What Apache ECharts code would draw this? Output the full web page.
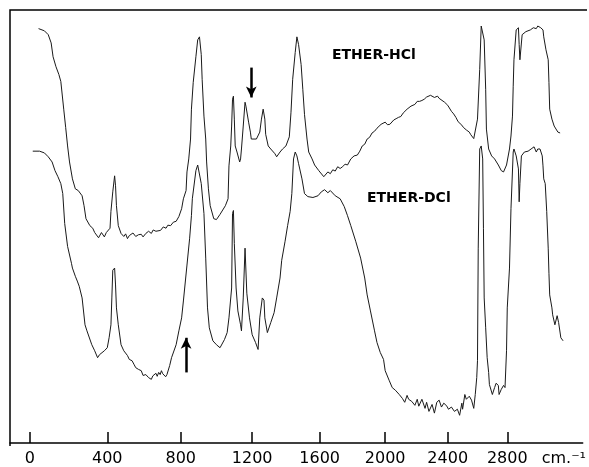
<!DOCTYPE html>
<html>
<head>
<meta charset="utf-8">
<script src="https://cdn.jsdelivr.net/npm/echarts@6/dist/echarts.min.js"></script>
<style>
html, body { margin: 0; padding: 0; background: #fff; }
#chart { width: 589px; height: 467px; }
</style>
</head>
<body>
<div id="chart"></div>
<script>
// wavenumber axis of the recorder chart, cm-1
var tickWavenumbers = [0, 400, 800, 1200, 1600, 2000, 2400, 2800];
var tickLabels = ['0', '400', '800', '1200', '1600', '2000', '2400', '2800'];
// the chart paper is not linear in wavenumber: relative spacing between successive ticks
var tickSpacing = [78, 74, 72, 68, 66, 63, 60];
var unitLabel = 'cm.\u207b\u00b9';

// [wavenumber, % transmission]
var hclTrace = [
    [45,95.7],[75,95.2],[95,94.3],[110,92.4],[120,89.2],[135,86.9],[150,85.1],[160,83.5],[175,77.1],[185,72.9],
    [195,68.6],[205,64.9],[220,61.0],[235,58.7],[250,58.3],[270,57.1],[280,54.8],[290,51.8],[310,50.2],[325,49.6],
    [335,48.6],[345,48.9],[355,47.4],[360,47.7],[370,48.6],[375,48.4],[385,47.6],[395,48.6],[400,48.4],[415,49.6],
    [420,53.5],[430,58.0],[440,61.7],[445,59.4],[450,54.8],[460,50.2],[475,48.4],[490,47.7],[500,48.3],[510,47.2],
    [520,47.9],[530,47.9],[540,48.5],[555,47.7],[570,48.1],[585,48.2],[595,47.6],[610,48.4],[625,48.9],[640,48.4],
    [650,49.2],[665,48.9],[675,48.5],[690,49.1],[705,49.9],[720,49.6],[730,50.3],[745,50.2],[760,51.0],[775,51.2],
    [790,52.3],[805,54.1],[815,56.4],[830,58.3],[835,62.6],[845,65.6],[855,70.2],[860,77.1],[870,83.3],[885,89.2],
    [895,93.1],[905,93.8],[915,89.7],[920,84.0],[930,75.5],[940,70.2],[945,64.9],[955,58.7],[965,54.8],[985,51.8],
    [1000,51.6],[1020,52.8],[1050,54.8],[1065,56.4],[1070,64.0],[1080,68.6],[1085,73.2],[1090,79.4],[1095,80.1],[1100,74.8],
    [1105,68.6],[1115,67.2],[1130,64.9],[1135,65.6],[1140,67.9],[1150,73.2],[1160,78.7],[1165,77.8],[1180,74.1],[1190,71.8],
    [1195,70.2],[1225,70.2],[1245,71.8],[1255,74.8],[1265,77.1],[1275,74.8],[1280,71.3],[1295,68.6],[1310,67.9],[1335,66.8],
    [1345,66.1],[1365,67.2],[1380,67.9],[1400,68.6],[1420,70.7],[1430,76.4],[1440,84.0],[1455,90.2],[1465,93.8],[1475,92.0],
    [1490,87.4],[1500,81.7],[1510,75.9],[1525,70.2],[1535,67.2],[1555,65.6],[1570,64.2],[1595,62.9],[1625,61.5],[1650,62.6],
    [1665,62.2],[1680,63.1],[1695,62.8],[1710,63.8],[1725,63.4],[1740,63.8],[1755,64.4],[1770,64.2],[1790,65.6],[1810,66.3],
    [1830,66.5],[1845,67.4],[1860,68.6],[1875,69.0],[1890,70.2],[1905,70.6],[1920,71.6],[1935,72.0],[1950,72.7],[1975,73.6],
    [2000,74.1],[2015,73.5],[2030,73.6],[2055,74.6],[2070,74.9],[2085,75.2],[2100,75.4],[2115,76.2],[2140,77.1],[2165,77.8],
    [2190,78.2],[2205,78.9],[2220,78.9],[2235,79.1],[2250,79.4],[2265,79.9],[2275,79.6],[2290,80.3],[2300,80.1],[2315,79.8],
    [2335,80.1],[2345,79.6],[2355,79.4],[2380,78.7],[2400,78.0],[2425,76.6],[2440,76.0],[2455,75.2],[2470,74.2],[2480,73.9],
    [2495,73.4],[2505,72.9],[2525,72.3],[2545,71.8],[2555,71.2],[2565,71.1],[2575,70.3],[2580,70.0],[2600,74.8],[2615,86.3],
    [2625,96.3],[2635,96.6],[2645,93.1],[2655,81.7],[2660,72.5],[2675,67.9],[2695,66.3],[2715,65.6],[2740,64.2],[2760,62.9],
    [2775,62.6],[2795,64.2],[2815,67.9],[2825,70.9],[2835,75.5],[2840,82.4],[2845,88.5],[2860,95.4],[2875,95.9],[2880,92.0],
    [2885,88.5],[2900,94.3],[2925,95.0],[2955,95.4],[2975,95.9],[2995,95.7],[3005,96.3],[3025,95.9],[3040,95.4],[3045,93.8],
    [3060,90.8],[3075,88.5],[3080,83.3],[3085,77.1],[3100,74.8],[3115,73.2],[3140,71.8],[3155,71.6]
];

var dclTrace = [
    [15,67.4],[50,67.4],[75,67.0],[95,66.1],[115,64.9],[130,62.9],[145,61.5],[160,59.9],[170,57.6],[180,50.7],
    [195,45.4],[215,41.5],[220,40.4],[235,38.5],[245,37.4],[255,36.2],[270,33.5],[285,27.3],[295,25.9],[320,22.7],
    [335,21.3],[350,19.7],[360,20.4],[370,20.4],[385,21.3],[400,22.0],[410,24.3],[420,27.3],[425,33.5],[430,39.9],
    [440,40.4],[445,36.5],[450,31.2],[460,27.3],[475,22.7],[490,21.3],[510,20.2],[520,19.3],[535,19.0],[545,18.2],
    [555,17.4],[570,17.0],[585,16.7],[595,15.6],[610,15.8],[625,15.1],[640,14.7],[648,15.5],[655,15.1],[665,16.1],
    [672,15.4],[680,16.3],[688,15.8],[695,16.7],[702,16.0],[710,16.1],[718,15.3],[725,15.8],[740,17.9],[750,19.7],
    [775,22.7],[790,25.9],[805,28.9],[815,32.8],[835,41.1],[850,47.3],[860,52.5],[865,56.4],[885,62.9],[895,64.2],
    [905,64.2],[915,59.9],[930,53.0],[940,42.7],[950,31.2],[960,26.6],[980,23.6],[1000,22.7],[1020,22.0],[1045,23.9],
    [1060,25.5],[1070,28.9],[1085,35.8],[1090,53.0],[1095,53.7],[1100,46.1],[1110,35.8],[1120,30.5],[1135,27.3],[1140,25.9],
    [1150,33.5],[1160,45.0],[1170,34.6],[1185,28.9],[1200,25.0],[1220,23.2],[1235,21.6],[1245,28.9],[1260,33.5],[1270,33.0],
    [1275,28.9],[1290,25.5],[1300,25.2],[1310,27.8],[1330,30.1],[1345,33.5],[1365,38.1],[1375,42.2],[1395,46.6],[1410,50.2],
    [1425,53.5],[1435,57.6],[1445,65.6],[1455,67.2],[1465,66.3],[1475,64.5],[1495,61.0],[1510,57.6],[1530,56.9],[1560,56.7],
    [1590,57.1],[1610,58.0],[1630,58.5],[1650,57.8],[1665,58.3],[1695,57.1],[1725,56.4],[1750,54.6],[1770,52.5],[1790,50.2],
    [1820,46.6],[1850,42.7],[1875,38.1],[1890,34.2],[1910,30.5],[1935,25.9],[1950,23.2],[1970,20.9],[1990,19.3],[2000,16.7],
    [2025,14.5],[2045,12.8],[2065,12.2],[2090,11.2],[2110,10.3],[2125,9.4],[2140,11.0],[2150,10.1],[2170,9.6],[2190,8.7],
    [2205,10.1],[2215,8.5],[2235,10.1],[2255,8.0],[2265,9.4],[2280,7.3],[2300,8.9],[2315,6.9],[2330,9.4],[2345,9.9],
    [2360,8.3],[2375,9.2],[2395,8.5],[2405,7.8],[2425,8.3],[2445,7.3],[2465,7.8],[2480,6.4],[2495,9.2],[2500,7.8],
    [2515,11.2],[2525,10.1],[2545,10.8],[2560,9.9],[2575,8.0],[2585,11.2],[2595,15.1],[2600,19.0],[2605,45.0],[2615,67.9],
    [2625,68.6],[2635,65.6],[2640,49.6],[2645,33.5],[2655,26.6],[2665,19.7],[2675,16.3],[2680,13.5],[2700,11.2],[2715,12.8],
    [2725,13.8],[2740,13.3],[2745,11.2],[2760,12.4],[2775,13.3],[2785,12.8],[2795,21.3],[2800,31.2],[2815,40.4],[2825,54.1],
    [2840,67.2],[2845,67.9],[2860,66.3],[2875,63.3],[2880,55.7],[2885,59.9],[2895,66.3],[2915,67.2],[2940,67.4],[2960,67.9],
    [2980,68.4],[2995,67.2],[3005,67.9],[3020,67.9],[3035,66.3],[3040,64.0],[3045,61.0],[3055,59.9],[3065,53.5],[3075,45.0],
    [3080,39.2],[3085,34.2],[3100,31.2],[3105,29.6],[3120,27.3],[3135,29.4],[3140,29.6],[3145,27.8],[3160,24.3],[3175,23.6]
];

// [wavenumber, from, to]
var arrowHcl = [1195, 86.7, 79.8];
var arrowDcl = [830, 16.3, 24.3];

var tickPos = [0];
for (var i = 0; i < tickSpacing.length; i++) {
    tickPos.push(tickPos[i] + tickSpacing[i]);
}

// wavenumber -> position along the chart paper (piecewise between ticks)
function chartPos(wn) {
    var k = 0;
    while (k < tickWavenumbers.length - 2 && wn > tickWavenumbers[k + 1]) k++;
    var w0 = tickWavenumbers[k], w1 = tickWavenumbers[k + 1];
    return tickPos[k] + (wn - w0) / (w1 - w0) * (tickPos[k + 1] - tickPos[k]);
}

function toChart(trace) {
    return trace.map(function (p) { return [chartPos(p[0]), p[1]]; });
}

var unitPos = 538;
var labelPos = tickPos.concat([unitPos]);

const chartDom = document.getElementById('chart');
const chart = echarts.init(chartDom);

const lineColor = '#1a1a1a';

const option = {
    animation: false,
    backgroundColor: '#fff',
    grid: { left: 10, right: 2, top: 10, bottom: 21 },
    xAxis: {
        type: 'value',
        min: -20,
        max: 557,
        splitLine: { show: false },
        axisLine: { show: true, lineStyle: { color: '#000', width: 1.5 } },
        axisTick: {
            show: true,
            inside: true,
            length: 11,
            customValues: tickPos,
            lineStyle: { color: '#000', width: 1.5 }
        },
        axisLabel: {
            customValues: labelPos,
            margin: 8,
            color: '#000',
            fontFamily: 'DejaVu Sans',
            fontSize: 16,
            formatter: function (v) {
                var k = tickPos.indexOf(v);
                return k >= 0 ? tickLabels[k] : unitLabel;
            }
        }
    },
    yAxis: {
        type: 'value',
        min: 0,
        max: 100,
        splitLine: { show: false },
        axisLine: { show: false },
        axisTick: { show: false },
        axisLabel: { show: false }
    },
    graphic: [{
        type: 'polyline',
        silent: true,
        shape: { points: [[10, 446], [10, 10], [587, 10]] },
        style: { stroke: '#000', lineWidth: 1.5, fill: null }
    }, {
        type: 'text',
        left: 332,
        top: 48,
        style: { text: 'ETHER-HCl', font: 'bold 14px "DejaVu Sans"', fill: '#000' }
    }, {
        type: 'text',
        left: 367,
        top: 191,
        style: { text: 'ETHER-DCl', font: 'bold 14px "DejaVu Sans"', fill: '#000' }
    }],
    series: [{
        name: 'ETHER-HCl',
        type: 'line',
        data: toChart(hclTrace),
        showSymbol: false,
        lineStyle: { color: lineColor, width: 1 },
        markLine: {
            silent: true,
            symbol: ['none', 'arrow'],
            symbolSize: [8, 11],
            label: { show: false },
            lineStyle: { color: '#000', width: 2.5, type: 'solid' },
            data: [
                [{ coord: [chartPos(arrowHcl[0]), arrowHcl[1]] }, { coord: [chartPos(arrowHcl[0]), arrowHcl[2]] }],
                [{ coord: [chartPos(arrowDcl[0]), arrowDcl[1]] }, { coord: [chartPos(arrowDcl[0]), arrowDcl[2]] }]
            ]
        }
    }, {
        name: 'ETHER-DCl',
        type: 'line',
        data: toChart(dclTrace),
        showSymbol: false,
        lineStyle: { color: lineColor, width: 1 }
    }]
};

option && chart.setOption(option);
</script>
</body>
</html>
